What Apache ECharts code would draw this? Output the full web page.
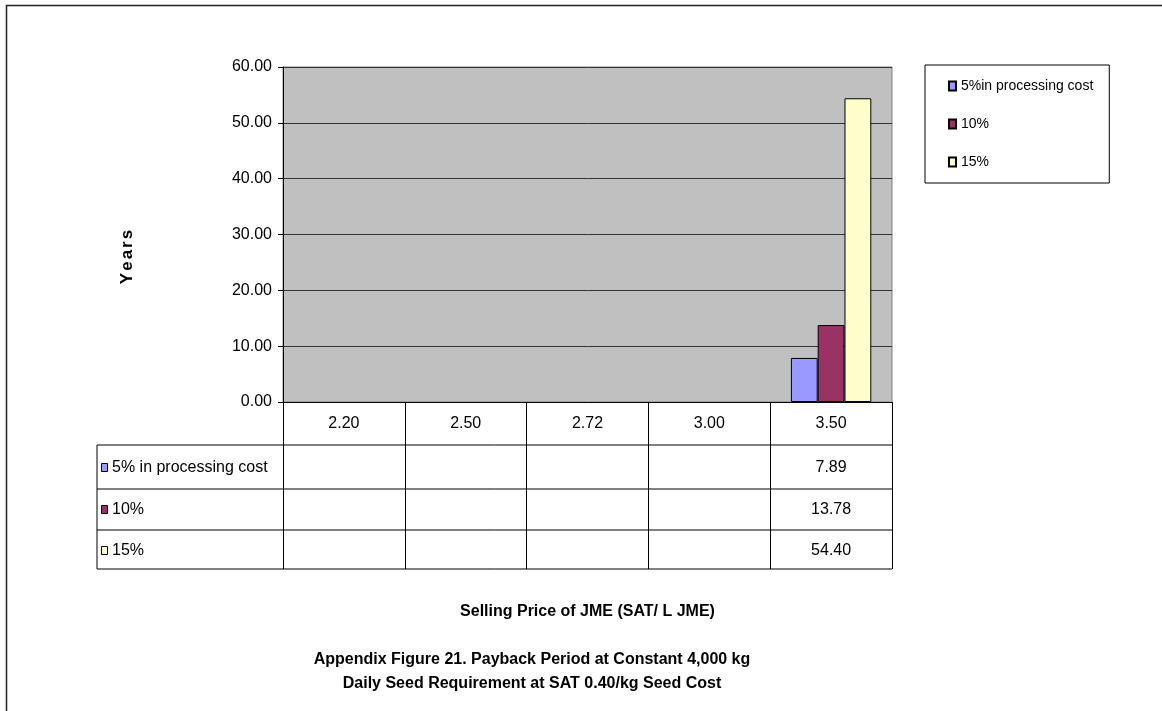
<!DOCTYPE html>
<html>
<head>
<meta charset="utf-8">
<script src="https://cdn.jsdelivr.net/npm/echarts@6/dist/echarts.min.js"></script>
<style>
  html, body { margin: 0; padding: 0; background: #fff; }
  #chart { width: 1162px; height: 711px; }
</style>
</head>
<body>
<div id="chart"></div>
<script>
// Selling price categories (SAT / L JME)
const categories = ['2.20', '2.50', '2.72', '3.00', '3.50'];
// Payback period in years for each rise in processing cost
const seriesNames = ['5% in processing cost', '10%', '15%'];
const legendNames = ['5%in processing cost', '10%', '15%'];
const payback5 = [null, null, null, null, 7.89];
const payback10 = [null, null, null, null, 13.78];
const payback15 = [null, null, null, null, 54.40];
const yTicks = [0, 10, 20, 30, 40, 50, 60];

const colors = ['#9999FF', '#993366', '#FFFFCC'];
const FONT = 'Liberation Sans, Arial, sans-serif';
const seriesData = [payback5, payback10, payback15];

const gridLeft = 283, gridRight = 892, gridTop = 67, gridBottom = 402;
const rowLines = [445, 489, 530, 569];
const rowCenters = [468, 510, 551];
const tableLeft = 97;

const chart = echarts.init(document.getElementById('chart'), null, { renderer: 'canvas' });

const option = {
  backgroundColor: '#ffffff',
  animation: false,
  color: colors,
  textStyle: { fontFamily: FONT, color: '#000' },
  grid: {
    left: gridLeft, right: 1162 - gridRight, top: gridTop, bottom: 711 - gridBottom,
    show: true, backgroundColor: '#C0C0C0', borderColor: '#808080', borderWidth: 1,
    containLabel: false
  },
  legend: {
    orient: 'vertical',
    left: 925, top: 65,
    data: legendNames,
    icon: 'rect',
    itemWidth: 7, itemHeight: 9,
    itemGap: 24,
    padding: [14, 16, 14, 23],
    borderColor: '#000', borderWidth: 1,
    backgroundColor: '#fff',
    textStyle: { fontSize: 14, fontFamily: FONT, color: '#000', lineHeight: 14 },
    selectedMode: false
  },
  xAxis: {
    type: 'category',
    data: categories,
    name: 'Selling Price of JME (SAT/ L JME)',
    nameLocation: 'middle',
    nameGap: 202,
    nameTextStyle: { fontSize: 16, fontWeight: 'bold', color: '#000', fontFamily: FONT },
    axisLine: { show: true, lineStyle: { color: '#000', width: 1 } },
    axisTick: { show: true, length: rowLines[3] - gridBottom, lineStyle: { color: '#000', width: 1 } },
    axisLabel: { fontSize: 16, color: '#000', margin: 14, fontFamily: FONT },
    splitLine: { show: false }
  },
  yAxis: {
    type: 'value',
    min: 0, max: 60, interval: 10,
    axisLine: { show: true, lineStyle: { color: '#000', width: 1 } },
    axisTick: { show: true, length: 5, lineStyle: { color: '#000' } },
    axisLabel: {
      fontSize: 16, color: '#000', margin: 11, fontFamily: FONT,
      formatter: v => yTicks.includes(v) ? v.toFixed(2) : ''
    },
    splitLine: { show: true, lineStyle: { color: '#333', width: 1 } }
  },
  series: seriesData.map((d, i) => ({
    name: legendNames[i],
    type: 'bar',
    data: d,
    barGap: '0%',
    barCategoryGap: '34%',
    itemStyle: { color: colors[i], borderColor: '#000', borderWidth: 1 }
  }))
};

chart.setOption(option);

// Data table under the plot: row headers, cell values, and rules
function buildTable() {
  const els = [];
  const right = gridRight;
  rowLines.forEach(y => {
    els.push({ type: 'line', shape: { x1: tableLeft, y1: y, x2: right, y2: y },
      style: { stroke: '#000', lineWidth: 1 }, silent: true });
  });
  els.push({ type: 'line', shape: { x1: tableLeft, y1: rowLines[0], x2: tableLeft, y2: rowLines[3] },
    style: { stroke: '#000', lineWidth: 1 }, silent: true });

  seriesNames.forEach((name, r) => {
    const cy = rowCenters[r];
    els.push({ type: 'rect', shape: { x: 101.5, y: cy - 4.5, width: 6, height: 8 },
      style: { fill: colors[r], stroke: '#000', lineWidth: 1 }, silent: true });
    els.push({ type: 'text', x: 112, y: cy,
      style: { text: name, fontSize: 16, fontFamily: FONT, fill: '#000', verticalAlign: 'middle', textAlign: 'left' },
      silent: true });
    seriesData[r].forEach((v, c) => {
      if (v == null) return;
      const cx = chart.convertToPixel({ xAxisIndex: 0 }, categories[c]);
      els.push({ type: 'text', x: cx, y: cy,
        style: { text: v.toFixed(2), fontSize: 16, fontFamily: FONT, fill: '#000', verticalAlign: 'middle', textAlign: 'center' },
        silent: true });
    });
  });

  // Value axis title, letter-spaced
  els.push({ type: 'text', x: 127, y: 256, rotation: Math.PI / 2,
    style: {
      text: 'Years'.split('').map(ch => '{l|' + ch + '}').join(''),
      rich: { l: { fontSize: 17, fontWeight: 'bold', fontFamily: FONT, fill: '#000', padding: [0, 2, 0, 0] } },
      textAlign: 'center', verticalAlign: 'middle'
    }, silent: true });

  // Figure caption
  els.push({ type: 'text', x: 532, y: 648,
    style: {
      text: 'Appendix Figure 21. Payback Period at Constant 4,000 kg\nDaily Seed Requirement at SAT 0.40/kg Seed Cost',
      fontSize: 16, fontWeight: 'bold', fontFamily: FONT, fill: '#000',
      textAlign: 'center', lineHeight: 24
    }, silent: true });

  // Outer frame
  els.push({ type: 'rect', shape: { x: 6.5, y: 5.5, width: 1300, height: 900 },
    style: { fill: 'none', stroke: '#222', lineWidth: 1.5 }, silent: true, z: 100 });

  chart.setOption({ graphic: els });
}
buildTable();
</script>
</body>
</html>
